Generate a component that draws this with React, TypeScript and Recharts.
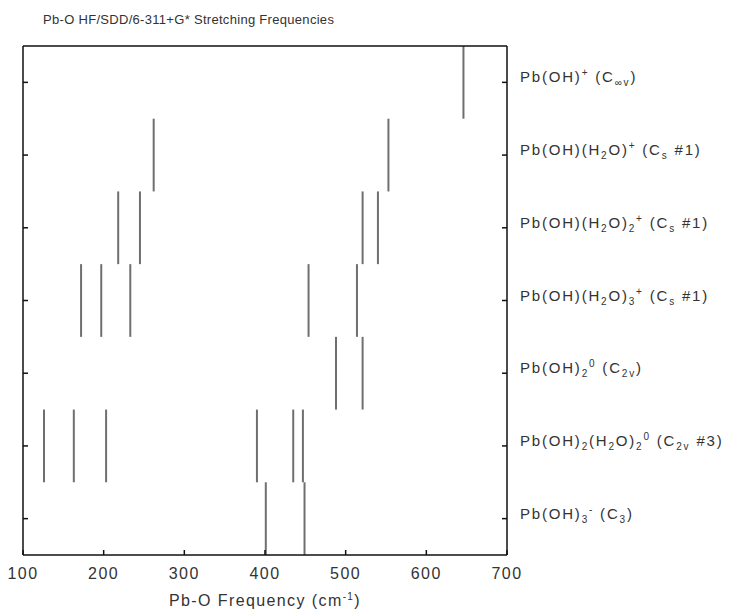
import { ComposedChart, XAxis, YAxis, ReferenceLine } from 'recharts';

// row labels, top to bottom; _{..} subscript, ^{..} superscript
const rowLabels = [
  'Pb(OH)^{+} (C_{∞v})',
  'Pb(OH)(H_{2}O)^{+} (C_{s} #1)',
  'Pb(OH)(H_{2}O)_{2}^{+} (C_{s} #1)',
  'Pb(OH)(H_{2}O)_{3}^{+} (C_{s} #1)',
  'Pb(OH)_{2}^{0} (C_{2v})',
  'Pb(OH)_{2}(H_{2}O)_{2}^{0} (C_{2v} #3)',
  'Pb(OH)_{3}^{-} (C_{3})',
];

// Pb-O stretching frequencies (cm-1) per species
const pbOH = [646];
const pbOHH2O = [262, 553];
const pbOHH2O2 = [218, 245, 521, 540];
const pbOHH2O3 = [172, 197, 233, 454, 514];
const pbOH2 = [488, 521];
const pbOH2H2O2 = [126, 163, 203, 390, 435, 447];
const pbOH3 = [401, 449];

const rowFreqs = [pbOH, pbOHH2O, pbOHH2O2, pbOHH2O3, pbOH2, pbOH2H2O2, pbOH3];

const xTicks = [100, 200, 300, 400, 500, 600, 700];
const rowTicks = [1, 2, 3, 4, 5, 6, 7];

const font = '"Liberation Sans", Arial, sans-serif';
const axisStyle = { stroke: '#111', strokeWidth: 1.5 };

type Part = { kind: 'text' | 'sub' | 'sup'; text: string };

function parseRich(s: string): Part[] {
  const out: Part[] = [];
  const re = /([_^])\{([^}]*)\}|([^_^]+)/g;
  let m: RegExpExecArray | null;
  while ((m = re.exec(s))) {
    if (m[3]) out.push({ kind: 'text', text: m[3] });
    else out.push({ kind: m[1] === '_' ? 'sub' : 'sup', text: m[2] });
  }
  return out;
}

function RowTick(props: any) {
  const { x, y, payload } = props;
  const label = rowLabels[payload.value - 1];
  if (!label) return null;
  let shift = 0;
  return (
    <text x={x} y={y} dy={5} fontSize={15} letterSpacing={1.8} fill="#333" fontFamily={font}>
      {parseRich(label).map((p, i) => {
        const target = p.kind === 'sub' ? 4 : p.kind === 'sup' ? -6 : 0;
        const dy = target - shift;
        shift = target;
        return (
          <tspan key={i} dy={dy} fontSize={p.kind === 'text' ? 15 : 10}>
            {p.text}
          </tspan>
        );
      })}
    </text>
  );
}

// bottom axis: inward tick mark plus number below
function BottomTick(props: any) {
  const { x, y, payload } = props;
  return (
    <g>
      <line x1={x} x2={x} y1={y} y2={y - 5} stroke="#111" strokeWidth={1.5} />
      <text x={x} y={y + 24} textAnchor="middle" fontSize={16} letterSpacing={1.5} fill="#333" fontFamily={font}>
        {payload.value}
      </text>
    </g>
  );
}

// top axis: inward tick mark only
function TopTick(props: any) {
  const { x, y } = props;
  return <line x1={x} x2={x} y1={y} y2={y + 5} stroke="#111" strokeWidth={1.5} />;
}

// tick marks only, no text
const NoLabel = () => <g />;

function XTitle(props: any) {
  const vb = props.viewBox || {};
  const cx = vb.x + vb.width / 2;
  return (
    <text x={cx} y={vb.y + 51} textAnchor="middle" fontSize={16} letterSpacing={1.4} fill="#333" fontFamily={font}>
      <tspan>Pb-O Frequency (cm</tspan>
      <tspan dy={-6} fontSize={10}>-1</tspan>
      <tspan dy={6}>)</tspan>
    </text>
  );
}

export default function App() {
  return (
    <div style={{ position: 'relative', width: 728, height: 601 }}>
      <div
        style={{
          position: 'absolute',
          left: 35,
          top: 4,
          fontFamily: font,
          fontSize: 13,
          letterSpacing: 0.3,
          color: '#333',
          whiteSpace: 'nowrap',
        }}
      >
        Pb-O HF/SDD/6-311+G* Stretching Frequencies
      </div>
      <ComposedChart width={728} height={601} data={[]} margin={{ top: 37, right: 0, bottom: 0, left: 14 }}>
        <XAxis
          type="number"
          dataKey="x"
          domain={[100, 700]}
          ticks={xTicks}
          height={54}
          axisLine={axisStyle}
          tickLine={false}
          tickSize={0}
          tickMargin={0}
          tick={<BottomTick />}
          interval={0}
          label={<XTitle />}
          allowDataOverflow
        />
        <XAxis
          xAxisId="top"
          orientation="top"
          type="number"
          domain={[100, 700]}
          ticks={xTicks}
          height={1}
          axisLine={axisStyle}
          tickLine={false}
          tickSize={0}
          tickMargin={0}
          tick={<TopTick />}
          interval={0}
          allowDataOverflow
        />
        <YAxis
          orientation="right"
          type="number"
          domain={[0.5, 7.5]}
          ticks={rowTicks}
          reversed
          width={229}
          axisLine={axisStyle}
          tickLine={axisStyle}
          tickSize={-5}
          tickMargin={18}
          tick={<RowTick />}
          interval={0}
          allowDataOverflow
        />
        <YAxis
          yAxisId="left"
          orientation="left"
          type="number"
          domain={[0.5, 7.5]}
          ticks={rowTicks}
          reversed
          width={1}
          axisLine={axisStyle}
          tickLine={axisStyle}
          tickSize={-5}
          tick={NoLabel}
          interval={0}
          allowDataOverflow
        />
        {rowFreqs.flatMap((freqs, r) =>
          freqs.map((f, j) => (
            <ReferenceLine
              key={`${r}-${j}`}
              segment={[
                { x: f, y: r + 0.5 },
                { x: f, y: r + 1.5 },
              ]}
              stroke="#6f6f6f"
              strokeWidth={2}
              ifOverflow="visible"
            />
          ))
        )}
      </ComposedChart>
    </div>
  );
}
